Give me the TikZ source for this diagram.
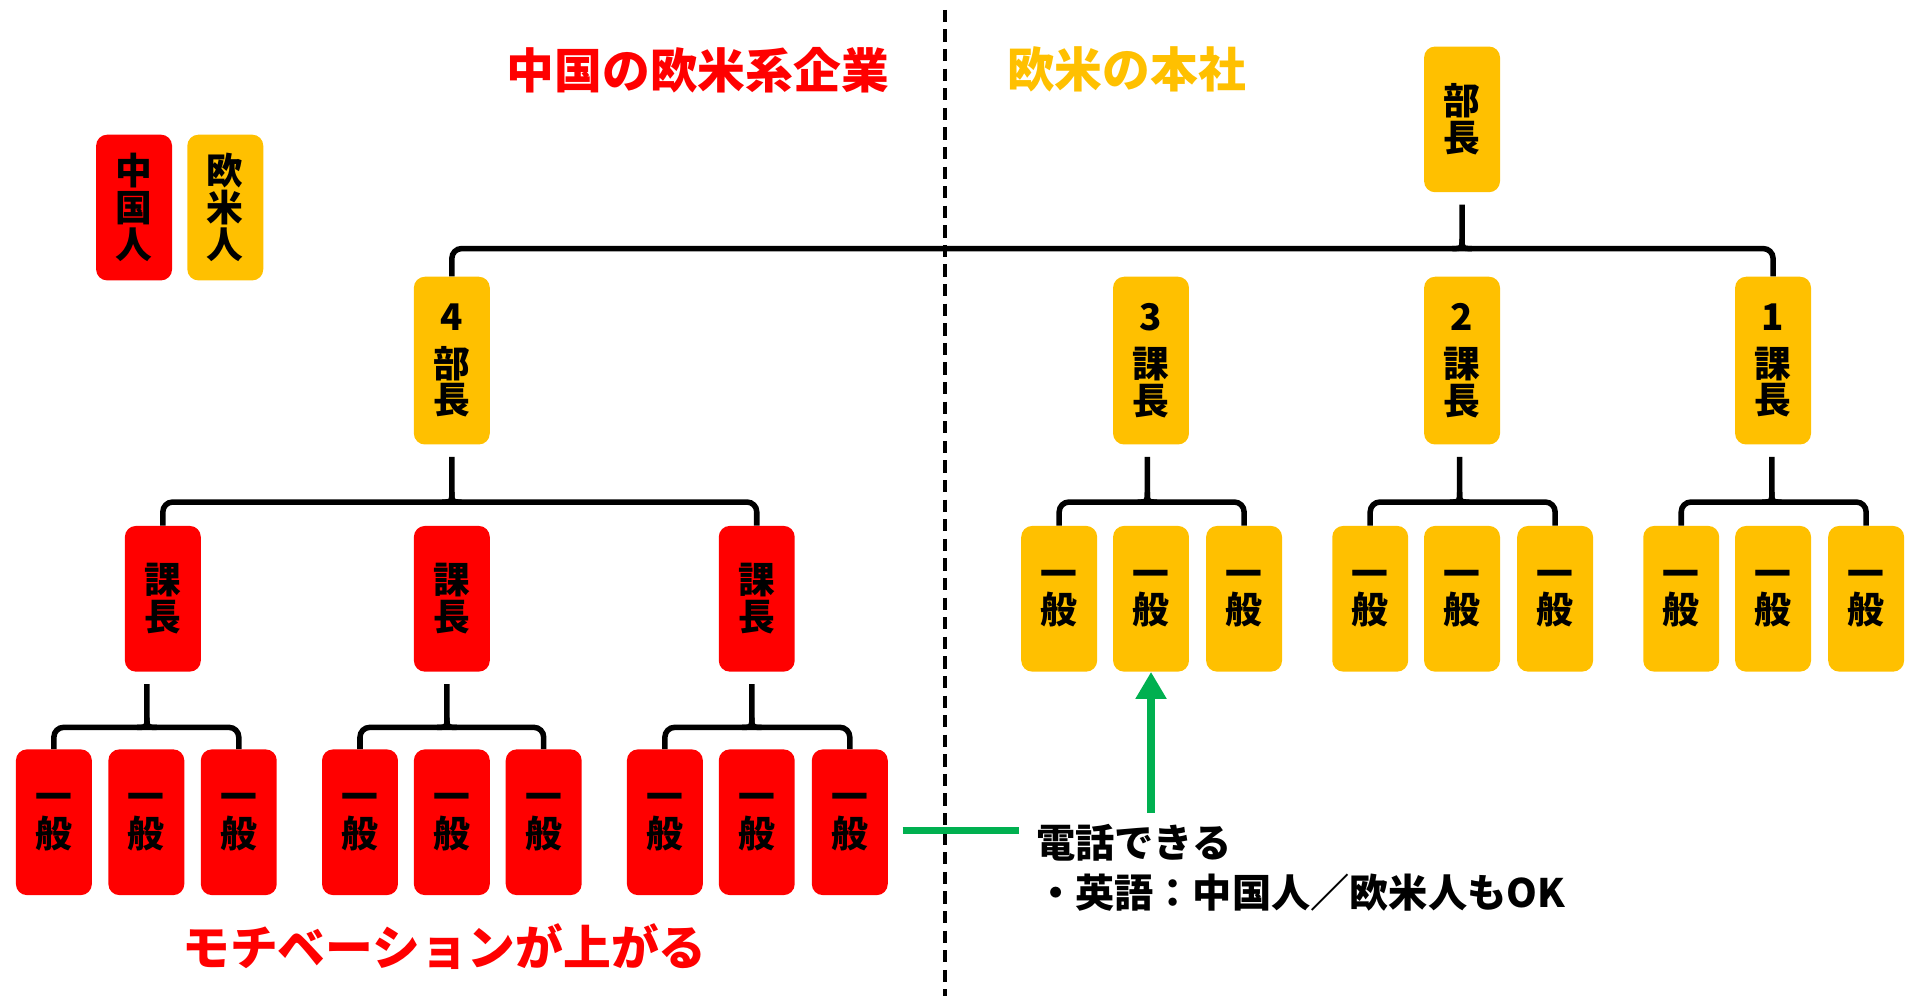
\documentclass[tikz,border=0pt]{standalone}
\usepackage{fontspec}
\newfontfamily\jpfont{Noto Sans CJK JP}
\usetikzlibrary{arrows.meta,calc}

\definecolor{chinared}{HTML}{FF0000}
\definecolor{westgold}{HTML}{FFC000}
\definecolor{callgreen}{HTML}{00B050}

\tikzset{
  post/.style={rounded corners=9pt, minimum width=62pt, minimum height=119pt, inner sep=0pt,
    align=center, font=\jpfont\bfseries\fontsize{30}{30}\selectfont},
  cn/.style={post, fill=chinared},
  eu/.style={post, fill=westgold},
  head/.style={eu, minimum height=137pt},
  link/.style={line width=4.5pt, rounded corners=8pt},
  title/.style={font=\jpfont\bfseries\fontsize{39}{39}\selectfont},
  note/.style={font=\jpfont\bfseries\fontsize{32}{32}\selectfont, anchor=west, inner sep=0pt},
  call/.style={callgreen, line width=6pt},
}

\newcommand{\orgjoin}[4]{%
  \draw[link] (#2.north) |- (#4) -| (#3.north);
  \draw[line width=4.5pt] ($(#4 |- #1.south)+(0,10)$) -- ($(#4)+(0,-8)$) .. controls (#4) .. ($(#4)+(-8,0)$);
  \draw[line width=4.5pt] ($(#4)+(0,-8)$) .. controls (#4) .. ($(#4)+(8,0)$);
}

\begin{document}
\begin{tikzpicture}[x=1pt, y=-1pt]
\useasboundingbox (0,0) rectangle (1568,821);

\draw[line width=3pt, dash pattern=on 10pt off 6pt] (772,8) -- (772,813);

\node[title, text=chinared] (cntitle) at (570,57) {中国の欧米系企業};
\node[title, text=westgold] (eutitle) at (920,57) {欧米の本社};
\node[title, text=chinared] (motive) at (363,773) {モチベーションが上がる};

\node[cn] (keycn) at (109.5,169.5) {中\\国\\人};
\node[eu] (keyeu) at (184,169.5) {欧\\米\\人};

\node[eu] (bucho) at (1194,97.5) {部\\長};

\node[head] (bu4) at (369,294.5) {4\\[8pt]部\\長};
\node[head] (ka3) at (940,294.5) {3\\[8pt]課\\長};
\node[head] (ka2) at (1194,294.5) {2\\[8pt]課\\長};
\node[head] (ka1) at (1448,294.5) {1\\[8pt]課\\長};

\node[cn] (kaA) at (133,489) {課\\長};
\node[cn] (kaB) at (369,489) {課\\長};
\node[cn] (kaC) at (618,489) {課\\長};

\node[cn] (ipA1) at (44,671.5) {一\\般};
\node[cn] (ipA2) at (119.5,671.5) {一\\般};
\node[cn] (ipA3) at (195,671.5) {一\\般};
\node[cn] (ipB1) at (294,671.5) {一\\般};
\node[cn] (ipB2) at (369,671.5) {一\\般};
\node[cn] (ipB3) at (444,671.5) {一\\般};
\node[cn] (ipC1) at (543,671.5) {一\\般};
\node[cn] (ipC2) at (618,671.5) {一\\般};
\node[cn] (ipC3) at (694,671.5) {一\\般};

\node[eu] (ip31) at (865,489) {一\\般};
\node[eu] (ip32) at (940,489) {一\\般};
\node[eu] (ip33) at (1016,489) {一\\般};
\node[eu] (ip21) at (1119,489) {一\\般};
\node[eu] (ip22) at (1194,489) {一\\般};
\node[eu] (ip23) at (1270,489) {一\\般};
\node[eu] (ip11) at (1373,489) {一\\般};
\node[eu] (ip12) at (1448,489) {一\\般};
\node[eu] (ip13) at (1524,489) {一\\般};

\coordinate (jtop) at (1194,203);
\coordinate (jbu4) at (369,410);
\coordinate (jA) at (120,594);
\coordinate (jB) at (365,594);
\coordinate (jC) at (614,594);
\coordinate (j3) at (937,410);
\coordinate (j2) at (1192,410);
\coordinate (j1) at (1447,410);

\orgjoin{bucho}{bu4}{ka1}{jtop}
\orgjoin{bu4}{kaA}{kaC}{jbu4}
\orgjoin{kaA}{ipA1}{ipA3}{jA}
\orgjoin{kaB}{ipB1}{ipB3}{jB}
\orgjoin{kaC}{ipC1}{ipC3}{jC}
\orgjoin{ka3}{ip31}{ip33}{j3}
\orgjoin{ka2}{ip21}{ip23}{j2}
\orgjoin{ka1}{ip11}{ip13}{j1}

\node[note] (tel) at (846,688) {電話できる};
\node[note] (tel2) at (846,729) {・英語：中国人／欧米人もOK};

\coordinate (callend) at (832,678);
\coordinate (callfoot) at (940,664);
\draw[call] ($(ipC3.east |- callend)+(12,0)$) -- (callend);
\draw[call, -{Triangle[width=24pt,length=22pt]}] (callfoot) -- (ip32.south);
\end{tikzpicture}
\end{document}
